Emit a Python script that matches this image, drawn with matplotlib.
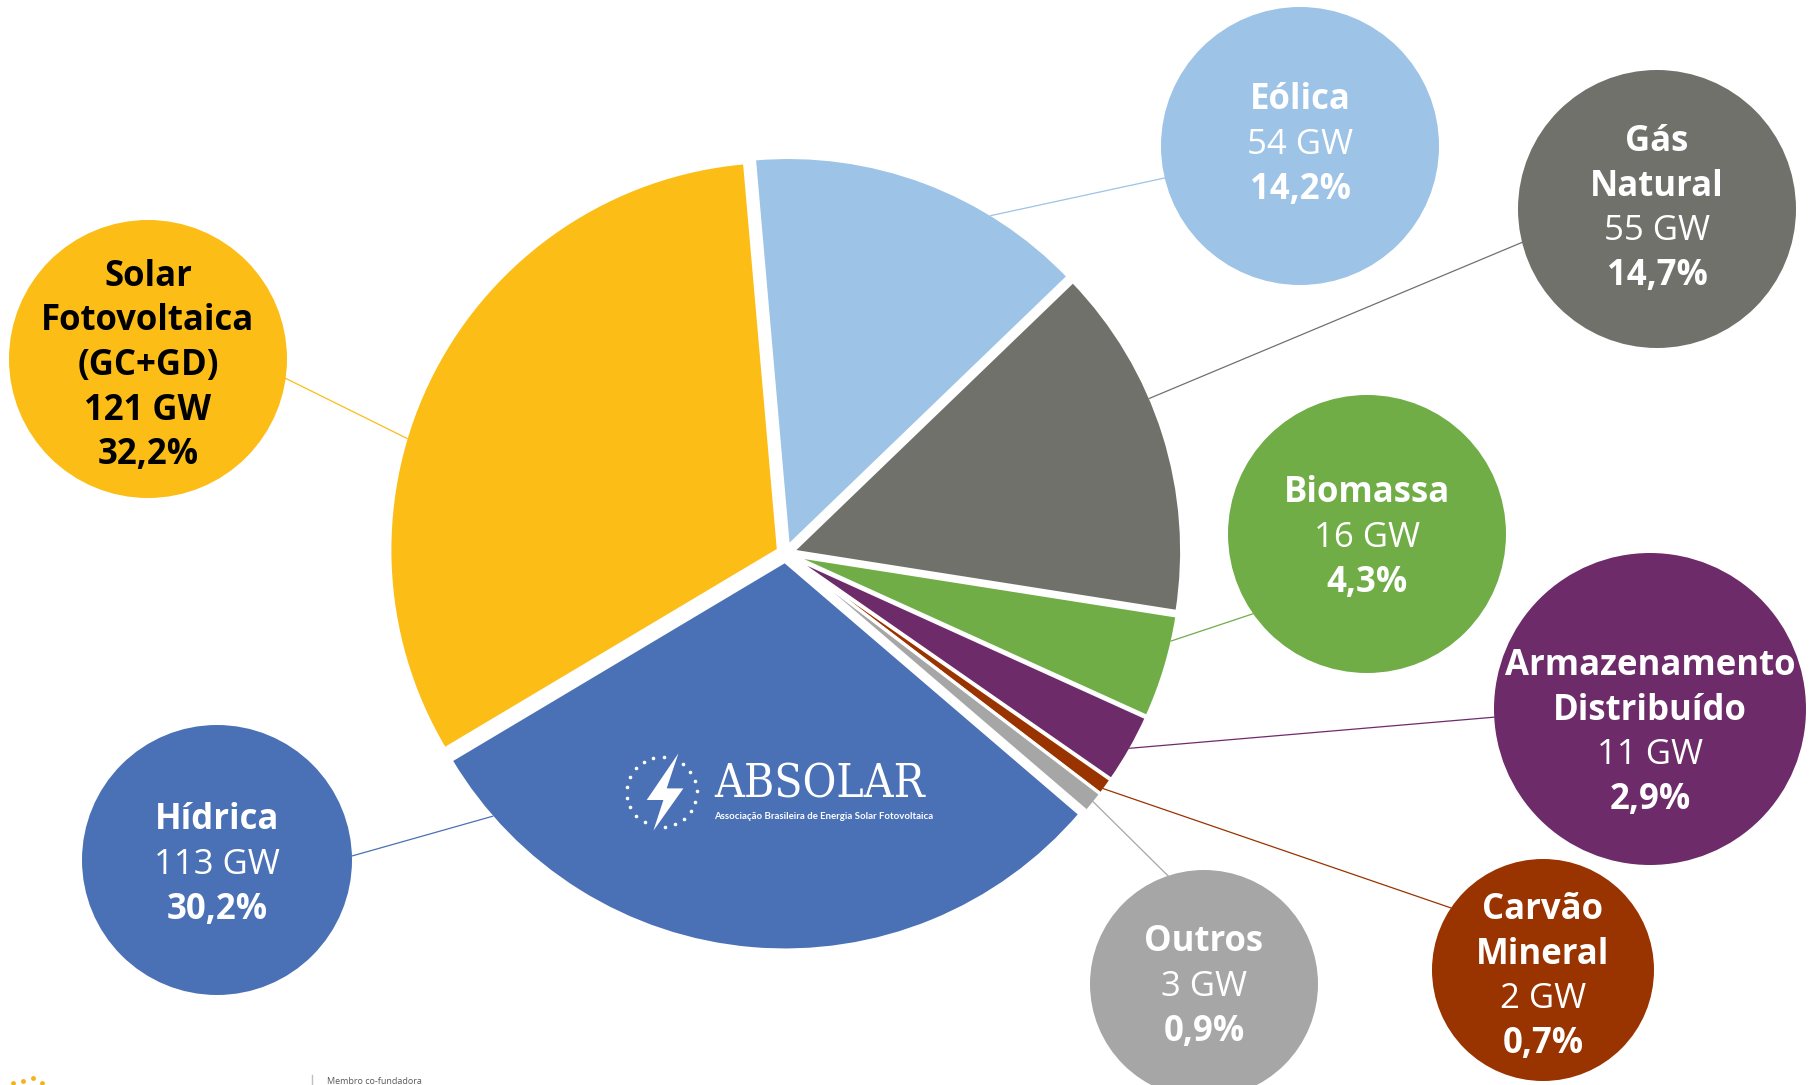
import numpy as np
import matplotlib.pyplot as plt
from matplotlib.patches import Circle, Polygon

W, H = 1814, 1085

# data
fontes = ["Eólica", "Gás\nNatural", "Biomassa", "Armazenamento\nDistribuído",
          "Carvão\nMineral", "Outros", "Hídrica", "Solar\nFotovoltaica\n(GC+GD)"]
gw = [54, 55, 16, 11, 2, 3, 113, 121]
pct = [14.2, 14.7, 4.3, 2.9, 0.7, 0.9, 30.2, 32.2]
cores = ["#9DC3E6", "#71716C", "#70AD47", "#6E2B6A",
         "#993300", "#A6A6A6", "#4A71B6", "#FBBD16"]
cor_texto = ["white"] * 7 + ["black"]
gw_negrito = [False] * 7 + [True]

# layout (image pixel coords, origin top-left)
cx, cy = 785.5, 553.5
R = 388.5
expl = 8
circ_xy = [(1300, 146), (1657, 209), (1367, 534), (1650, 709),
           (1543, 970), (1204, 984), (217, 860), (148, 359)]
circ_r = [139, 139, 139, 156, 111, 114, 135, 139]
txt_y = [145, 209, 538, 733, 977, 987, 865, 366]
ancora = [58.5, 23.2, -12.7, -29.5, -36.5, -38.9, -138.9, 163.3]   # on the pie
ancora_fim = [193.3, 193.9, 215, 183, 146, 108.4, 1.7, -8]         # on the label circle
passo = 44.6

fig = plt.figure(figsize=(W / 100, H / 100), dpi=100)
ax = fig.add_axes([0, 0, 1, 1])

wedges, _ = ax.pie(pct, colors=cores, startangle=95, counterclock=False,
                   radius=R, center=(cx, H - cy), explode=[expl] * len(pct),
                   wedgeprops=dict(edgecolor="white", linewidth=2.2))
ax.set_xlim(0, W)
ax.set_ylim(0, H)
ax.set_aspect("equal")
ax.axis("off")

for i, w in enumerate(wedges):
    # exploded centre of this wedge
    wx, wy = w.center
    a = np.deg2rad(ancora[i])
    x0 = wx + (R - 1) * np.cos(a)
    y0 = wy + (R - 1) * np.sin(a)
    ccx, ccy = circ_xy[i][0], H - circ_xy[i][1]
    b = np.deg2rad(ancora_fim[i])
    x1 = ccx + circ_r[i] * np.cos(b)
    y1 = ccy + circ_r[i] * np.sin(b)
    ax.plot([x0, x1], [y0, y1], color=cores[i], lw=0.9, zorder=3)
    ax.add_patch(Circle((ccx, ccy), circ_r[i], facecolor=cores[i],
                        edgecolor="none", zorder=4))

    linhas = [(t, "bold") for t in fontes[i].split("\n")]
    linhas.append((f"{gw[i]} GW", "bold" if gw_negrito[i] else "normal"))
    linhas.append((f"{pct[i]:.1f}%".replace(".", ","), "bold"))
    n = len(linhas)
    for k, (t, peso) in enumerate(linhas):
        yy = txt_y[i] + (k - (n - 1) / 2) * passo
        ax.text(ccx, H - yy, t, ha="center", va="center", fontsize=25,
                fontweight=peso, color=cor_texto[i], family="Open Sans",
                zorder=5)

# ABSOLAR logo inside the Hídrica wedge
ix, iy, ir = 661.7, 791.7, 35
ang = 87 + 17.1 * np.arange(21)
ang = np.array([g for g in ang
                if min(abs((g - 70 + 180) % 360 - 180),
                       abs((g - 263 + 180) % 360 - 180)) > 8])
ax.plot(ix + ir * np.cos(np.deg2rad(ang)), H - iy + ir * np.sin(np.deg2rad(ang)),
        "o", color="white", ms=2.6, mec="none", zorder=6)
raio = [(16.7, -38.3), (-15, 8.3), (1.7, 8.3), (-8.3, 39), (21.7, -3.3), (5, -3.3)]
ax.add_patch(Polygon([(ix + px, H - iy - py) for px, py in raio],
                     closed=True, facecolor="white", edgecolor="none", zorder=6))
ax.text(820, H - 785, "ABSOLAR", ha="center", va="center", fontsize=33,
        family="DejaVu Serif", fontstretch="condensed", color="white", zorder=6)
ax.text(824, H - 816.5, "Associação Brasileira de Energia Solar Fotovoltaica",
        ha="center", va="center", fontsize=6.9, family="Lato", fontweight="bold",
        color="white", zorder=6)

# footer fragments
ax.plot([311.7, 311.7], [0, 10], color="#BFBFBF", lw=1)
ax.text(327, 4, "Membro co-fundadora", ha="left", va="center", fontsize=6.5,
        family="Open Sans", color="#595959")
ax.plot([13, 23, 33, 42], [2, 4, 7, 2], "o", color="#F6B21B", ms=3.5, mec="none")

plt.savefig("out.png", dpi=100)
